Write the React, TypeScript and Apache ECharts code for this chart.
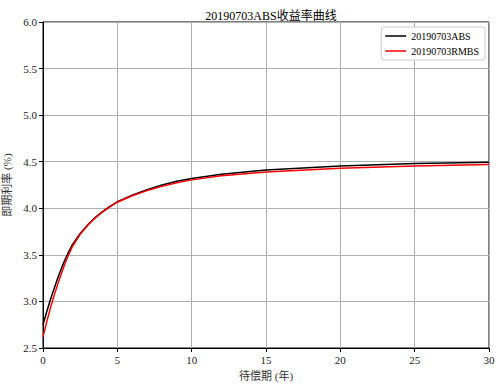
import React, { useEffect, useRef } from "react";
import * as echarts from "echarts";

const maturities = [0, 0.25, 0.5, 0.75, 1, 1.25, 1.5, 1.75, 2, 2.5, 3, 3.5, 4, 4.5, 5, 6, 7, 8, 9, 10, 12, 15, 20, 25, 30];
const absRates = [2.75, 2.89, 3.02, 3.14, 3.255, 3.36, 3.455, 3.54, 3.615, 3.73, 3.82, 3.9, 3.965, 4.02, 4.07, 4.14, 4.2, 4.25, 4.29, 4.32, 4.365, 4.41, 4.455, 4.48, 4.495];
const rmbsRates = [2.62, 2.78, 2.93, 3.065, 3.19, 3.305, 3.415, 3.51, 3.595, 3.72, 3.815, 3.895, 3.96, 4.015, 4.065, 4.135, 4.19, 4.235, 4.275, 4.305, 4.35, 4.39, 4.43, 4.455, 4.47];
const seriesNames = ["20190703ABS", "20190703RMBS"];
const seriesColors = ["#000000", "#ff0000"];
const title = "20190703ABS收益率曲线";
const xName = "待偿期 (年)";
const yName = "即期利率 (%)";

const FONT = "'Liberation Serif', 'Noto Sans CJK SC', serif";

export default function App() {
  const ref = useRef<HTMLDivElement>(null);
  useEffect(() => {
    if (!ref.current) return;
    const chart = echarts.init(ref.current, undefined, { renderer: "svg" });
    const mk = (arr: number[]) => maturities.map((m, i) => [m, arr[i]]);
    chart.setOption({
      animation: false,
      backgroundColor: "#ffffff",
      textStyle: { fontFamily: FONT },
      title: {
        text: title,
        left: 266,
        textAlign: "center",
        top: 5,
        textStyle: { fontFamily: FONT, fontSize: 12, fontWeight: "normal", color: "#000" },
      },
      legend: {
        orient: "vertical",
        right: 16,
        top: 27,
        backgroundColor: "#fff",
        borderColor: "#cccccc",
        borderWidth: 1,
        borderRadius: 3,
        padding: [4, 6, 4, 4],
        itemGap: 5,
        itemWidth: 21,
        itemHeight: 1.5,
        icon: "rect",
        textStyle: { fontFamily: FONT, fontSize: 10, color: "#000" },
        data: seriesNames,
      },
      grid: {
        left: 43,
        right: 12,
        top: 22,
        bottom: 38,
        show: true,
        borderColor: "#000",
        borderWidth: 1,
        containLabel: false,
        outerBoundsMode: "none",
      },
      xAxis: {
        type: "value",
        min: 0,
        max: 30,
        interval: 5,
        name: xName,
        nameLocation: "middle",
        nameGap: 22,
        nameTextStyle: { fontFamily: FONT, fontSize: 11, color: "#333" },
        axisLine: { show: true, lineStyle: { color: "#000" } },
        axisTick: { show: true, length: 4, lineStyle: { color: "#000" } },
        axisLabel: { fontFamily: FONT, fontSize: 11, color: "#222", margin: 6 },
        splitLine: { show: true, lineStyle: { color: "#b0b0b0", width: 1 } },
      },
      yAxis: {
        type: "value",
        min: 2.5,
        max: 6.0,
        interval: 0.5,
        name: yName,
        nameLocation: "middle",
        nameGap: 28,
        nameTextStyle: { fontFamily: FONT, fontSize: 11, color: "#333" },
        axisLine: { show: true, lineStyle: { color: "#000" } },
        axisTick: { show: true, length: 4, lineStyle: { color: "#000" } },
        axisLabel: { fontFamily: FONT, fontSize: 11, color: "#222", margin: 6, formatter: (v: number) => v.toFixed(1) },
        splitLine: { show: true, lineStyle: { color: "#b0b0b0", width: 1 } },
      },
      series: [
        {
          name: seriesNames[0],
          type: "line",
          data: mk(absRates),
          smooth: false,
          showSymbol: false,
          lineStyle: { color: seriesColors[0], width: 1.5, join: "round" },
          itemStyle: { color: seriesColors[0] },
        },
        {
          name: seriesNames[1],
          type: "line",
          data: mk(rmbsRates),
          smooth: false,
          showSymbol: false,
          lineStyle: { color: seriesColors[1], width: 1.5, join: "round" },
          itemStyle: { color: seriesColors[1] },
        },
      ],
    });
    return () => chart.dispose();
  }, []);
  return <div ref={ref} style={{ width: 501, height: 386, position: "absolute", left: 0, top: 0 }} />;
}
